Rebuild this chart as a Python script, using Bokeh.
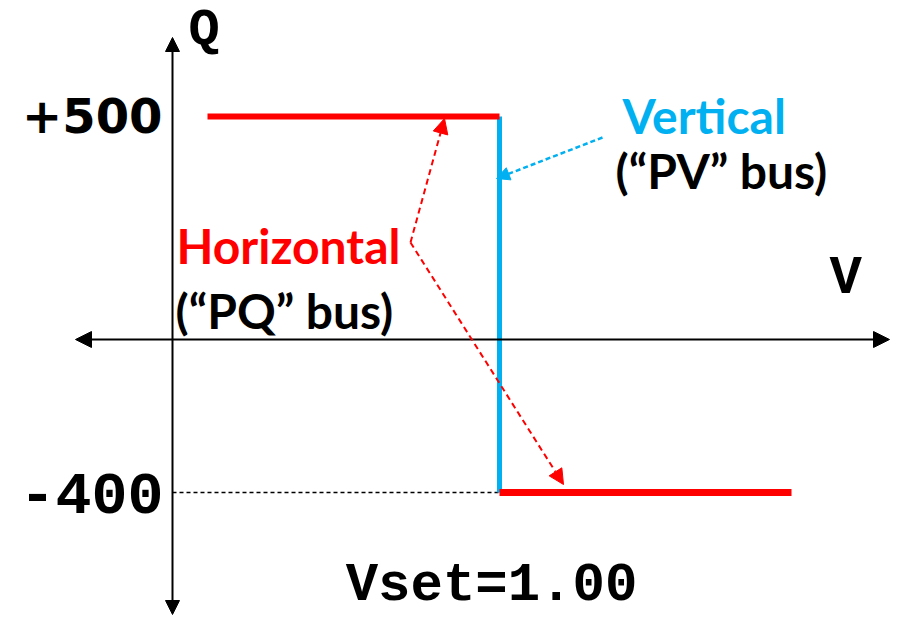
from bokeh.plotting import figure
from bokeh.models import Range1d, Label, Arrow, NormalHead
from bokeh.embed import file_html
from bokeh.resources import INLINE

# ---- data ----
V_SET = 1.00                 # voltage set point
V_LOW, V_HIGH = 0.90, 1.10   # extent of the horizontal segments
Q_MAX, Q_MIN = 500, -400     # reactive power limits
Q_TICKS = [500, -400]
Q_TICK_LABELS = ["+500", "-400"]

upper_v = [V_LOW, V_SET]
upper_q = [Q_MAX, Q_MAX]
lower_v = [V_SET, V_HIGH]
lower_q = [Q_MIN, Q_MIN]
vert_v = [V_SET, V_SET]
vert_q = [Q_MIN, Q_MAX]

W, H = 891, 617

# pixel <-> data helpers (layout only)
PX_VSET, PX_VLOW = 499, 207
PY_QMAX, PY_QMIN = 116, 492
sx = (PX_VSET - PX_VLOW) / (V_SET - V_LOW)
sy = (PY_QMIN - PY_QMAX) / (Q_MAX - Q_MIN)
TXT = 20  # baseline correction for labels


def xd(px):
    return V_SET + (px - PX_VSET) / sx


def yd(py):
    return Q_MAX - (py - PY_QMAX) / sy


def yt(py):
    return yd(py - TXT)


p = figure(width=W, height=H, output_backend="svg", toolbar_location=None,
           x_axis_location=None, y_axis_location=None,
           x_range=Range1d(xd(0), xd(W)), y_range=Range1d(yd(H), yd(0)),
           min_border=0, outline_line_color=None)
p.grid.visible = False
p.background_fill_color = "white"

AX_X = xd(172)   # vertical axis position
AX_Y = yd(339)   # horizontal axis position

HEAD = dict(fill_color="black", line_color="black")
# axes as double arrows
p.add_layout(Arrow(x_start=AX_X, y_start=yd(614), x_end=AX_X, y_end=yd(37),
                   line_color="black", line_width=2,
                   start=NormalHead(size=14, **HEAD), end=NormalHead(size=14, **HEAD)))
p.add_layout(Arrow(x_start=xd(75), y_start=AX_Y, x_end=xd(889), y_end=AX_Y,
                   line_color="black", line_width=2,
                   start=NormalHead(size=16, **HEAD), end=NormalHead(size=16, **HEAD)))

# dashed guide at Q_MIN
p.line([AX_X, V_SET], [Q_MIN, Q_MIN], line_color="black", line_width=1.5, line_dash="4 3")

# characteristic
p.line(vert_v, vert_q, line_color="#00B0F0", line_width=5)
p.line(upper_v, upper_q, line_color="#FF0000", line_width=6)
p.line(lower_v, lower_q, line_color="#FF0000", line_width=7)

# annotation arrows
RED_HEAD = dict(fill_color="#FF0000", line_color="#FF0000")
p.add_layout(Arrow(x_start=xd(410), y_start=yd(242), x_end=xd(444), y_end=yd(118),
                   line_color="#FF0000", line_width=2, line_dash="6 4",
                   end=NormalHead(size=15, **RED_HEAD)))
p.add_layout(Arrow(x_start=xd(410), y_start=yd(242), x_end=xd(563), y_end=yd(484),
                   line_color="#FF0000", line_width=2, line_dash="6 4",
                   end=NormalHead(size=15, **RED_HEAD)))
p.add_layout(Arrow(x_start=xd(602), y_start=yd(137), x_end=xd(496), y_end=yd(178),
                   line_color="#00B0F0", line_width=2.5, line_dash="5 3",
                   end=NormalHead(size=13, fill_color="#00B0F0", line_color="#00B0F0")))

MONO = "Liberation Mono"
SANS = "Lato"

# axis titles
p.add_layout(Label(x=xd(188), y=yt(50), text="Q", text_font=MONO, text_font_style="bold",
                   text_font_size="52px", text_color="black", text_baseline="alphabetic"))
p.add_layout(Label(x=xd(829), y=yt(298), text="V", text_font=MONO, text_font_style="bold",
                   text_font_size="54px", text_color="black", text_baseline="alphabetic"))

# tick labels
p.add_layout(Label(x=xd(162), y=Q_TICKS[0], y_offset=-(135 - TXT - PY_QMAX),
                   text=Q_TICK_LABELS[0], text_font="DejaVu Sans", text_font_style="bold",
                   text_font_size="48px", text_color="black", text_align="right",
                   text_baseline="alphabetic"))
p.add_layout(Label(x=xd(163), y=Q_TICKS[1], y_offset=-(513 - TXT - PY_QMIN),
                   text=Q_TICK_LABELS[1], text_font=MONO, text_font_style="bold",
                   text_font_size="60px", text_color="black", text_align="right",
                   text_baseline="alphabetic"))
p.add_layout(Label(x=xd(491), y=yt(605), text="Vset=%.2f" % V_SET, text_font=MONO,
                   text_font_style="bold", text_font_size="54px", text_color="black",
                   text_align="center", text_baseline="alphabetic"))

# explanatory texts
p.add_layout(Label(x=xd(176), y=yt(265), text="Horizontal", text_font=SANS,
                   text_font_style="bold", text_font_size="48px", text_color="#FF0000",
                   text_baseline="alphabetic"))
p.add_layout(Label(x=xd(175), y=yt(330), text="(\u201cPQ\u201d bus)", text_font=SANS,
                   text_font_style="bold", text_font_size="48px", text_color="black",
                   text_baseline="alphabetic"))
p.add_layout(Label(x=xd(622), y=yt(135), text="Vertical", text_font=SANS,
                   text_font_style="bold", text_font_size="48px", text_color="#00B0F0",
                   text_baseline="alphabetic"))
p.add_layout(Label(x=xd(615), y=yt(190), text="(\u201cPV\u201d bus)", text_font=SANS,
                   text_font_style="bold", text_font_size="48px", text_color="black",
                   text_baseline="alphabetic"))

open("out.html", "w").write(file_html(p, INLINE))
